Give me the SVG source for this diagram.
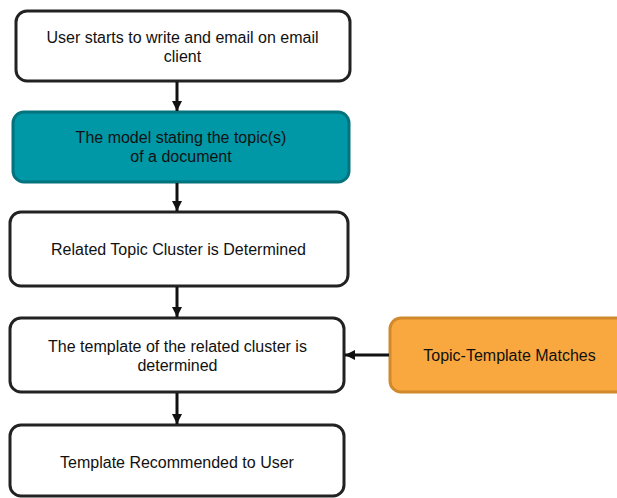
<svg xmlns="http://www.w3.org/2000/svg" width="617" height="498" viewBox="0 0 617 498">
<style>
.box{fill:#ffffff;stroke:#222222;stroke-width:3}
.teal{fill:#0097a7;stroke:#03737d;stroke-width:3}
.orange{fill:#f9a83f;stroke:#d08a2c;stroke-width:3}
text{font-family:"Liberation Sans",Arial,sans-serif;font-size:16px;fill:#111111;text-anchor:middle}
.conn line{stroke:#111111;stroke-width:3}
</style>
<defs>
<marker id="ah" markerUnits="userSpaceOnUse" markerWidth="12" markerHeight="12" refX="10" refY="6" orient="auto">
<path d="M0,1 L10,6 L0,11 Z" fill="#111111"/>
</marker>
</defs>
<g id="n1"><rect class="box" x="16" y="11" width="334" height="70" rx="11"/><text x="182.5" y="43">User starts to write and email on email</text><text x="182.5" y="62">client</text></g>
<g id="n2"><rect class="teal" x="13" y="112" width="336" height="70" rx="11"/><text x="181" y="143">The model stating the topic(s)</text><text x="181" y="162">of a document</text></g>
<g id="n3"><rect class="box" x="10" y="212" width="338" height="74" rx="11"/><text x="178.5" y="255">Related Topic Cluster is Determined</text></g>
<g id="n4"><rect class="box" x="10" y="318" width="334" height="74" rx="11"/><text x="177.5" y="352">The template of the related cluster is</text><text x="177.5" y="371">determined</text></g>
<g id="n5"><rect class="box" x="10" y="425" width="334" height="71" rx="11"/><text x="177" y="468">Template Recommended to User</text></g>
<g id="n6"><rect class="orange" x="390" y="318" width="240" height="74" rx="11"/><text x="509.5" y="361">Topic-Template Matches</text></g>
<g class="conn" id="connectors">
<line x1="177" y1="82" x2="177" y2="111" marker-end="url(#ah)"/>
<line x1="177" y1="183" x2="177" y2="211" marker-end="url(#ah)"/>
<line x1="177" y1="287" x2="177" y2="317" marker-end="url(#ah)"/>
<line x1="177" y1="393" x2="177" y2="424" marker-end="url(#ah)"/>
<line x1="389" y1="355" x2="345" y2="355" marker-end="url(#ah)"/>
</g>
</svg>
